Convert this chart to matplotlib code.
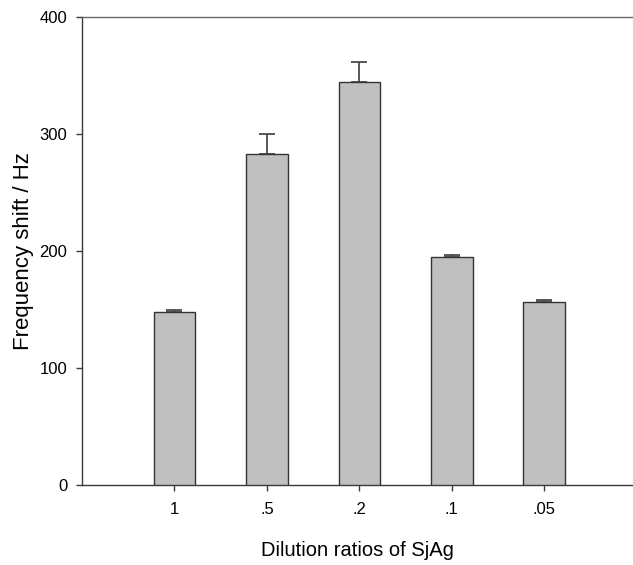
import matplotlib
matplotlib.use("Agg")
import matplotlib.pyplot as plt

# Dilution ratios of SjAg vs frequency shift
dilutions = ["1", ".5", ".2", ".1", ".05"]
shift_hz = [147.5, 282.5, 344.0, 194.5, 156.5]
shift_err = [2.0, 17.0, 17.5, 1.8, 1.8]

plt.rcParams["font.family"] = ["Liberation Sans", "DejaVu Sans"]

fig = plt.figure(figsize=(6.33, 5.65), dpi=100, facecolor="white")
ax = fig.add_axes([0.1295, 0.1416, 0.8705, 0.8288])

pos = list(range(1, len(dilutions) + 1))
ax.errorbar(pos, shift_hz, yerr=[[0] * len(shift_err), shift_err], fmt="none",
            ecolor="#4a4a4a", elinewidth=1.3, capsize=5.5, capthick=1.3, zorder=2)
ax.bar(pos, shift_hz, width=0.45, color="#c0c0c0", edgecolor="#333333",
       linewidth=1.0, zorder=3)

ax.set_xlim(0, 5.96)
ax.set_ylim(0, 400)
ax.set_xticks(pos)
ax.set_xticklabels(dilutions)
ax.set_yticks([0, 100, 200, 300, 400])

for side in ["left", "bottom", "top"]:
    ax.spines[side].set_color("#3a3a3a")
    ax.spines[side].set_linewidth(1.0)
ax.spines["top"].set_color("#6a6a6a")
ax.spines["right"].set_visible(False)

ax.tick_params(axis="both", direction="out", length=4.5, width=1.0,
               color="#3a3a3a", labelsize=12, labelcolor="#000000")
ax.tick_params(axis="x", pad=8)
ax.tick_params(axis="y", pad=6)

ax.set_ylabel("Frequency shift / Hz", fontsize=16, color="#000000", labelpad=4)
ax.set_xlabel("Dilution ratios of SjAg", fontsize=14.5, color="#000000", labelpad=17)

fig.savefig("out.png", dpi=100, facecolor="white")
